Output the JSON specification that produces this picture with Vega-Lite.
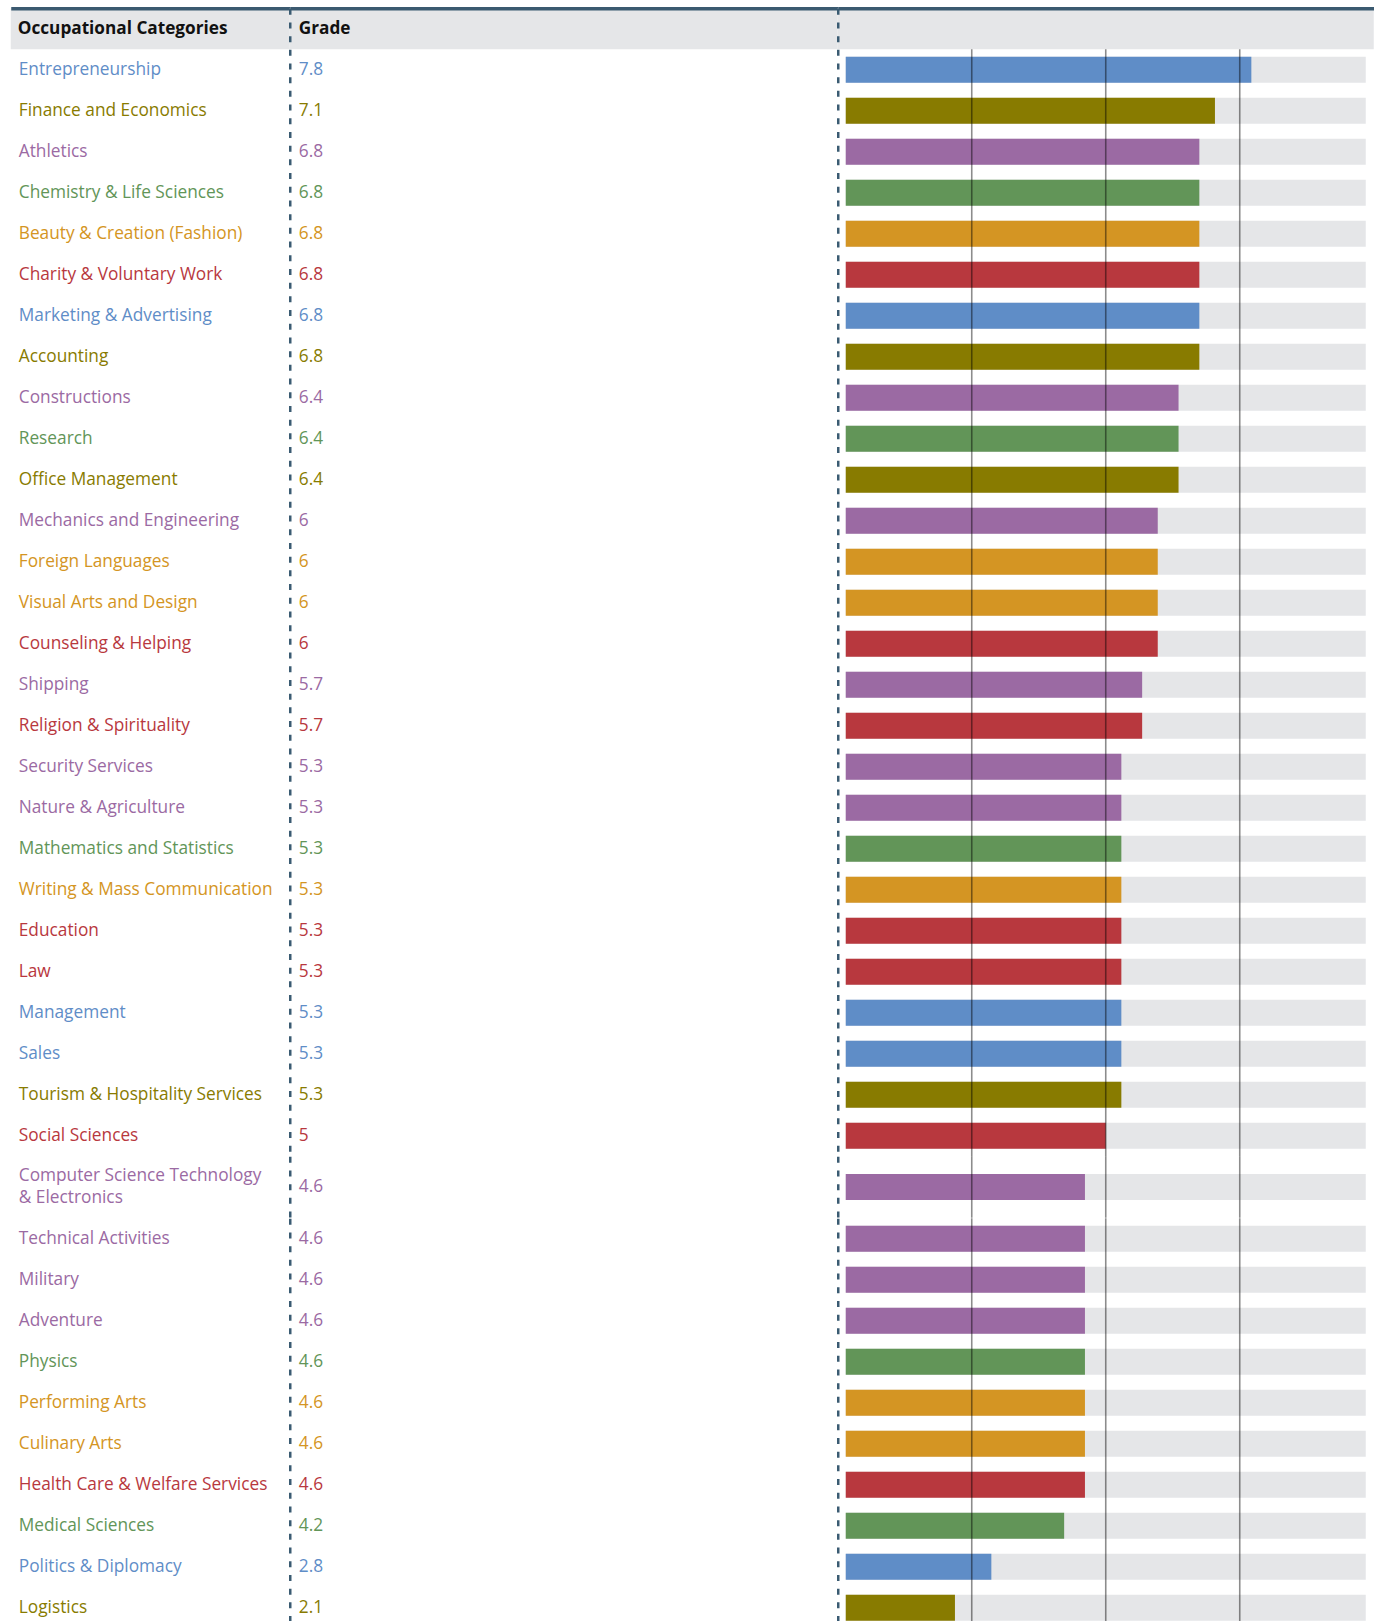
{
  "$schema": "https://vega.github.io/schema/vega-lite/v6.json",
  "padding": {"left": 10.75, "top": 8.25, "right": 0, "bottom": 0},
  "background": "white",
  "config": {"view": {"stroke": null}, "font": "Open Sans"},
  "datasets": {
    "header": [{"cat": "Occupational Categories", "grade": "Grade"}],
    "grid": [{"g": 2.5}, {"g": 5}, {"g": 7.5}],
    "rows": [
      {"sec": 1, "category": "Entrepreneurship", "grade": 7.8, "group": "Enterprising"},
      {"sec": 1, "category": "Finance and Economics", "grade": 7.1, "group": "Conventional"},
      {"sec": 1, "category": "Athletics", "grade": 6.8, "group": "Realistic"},
      {"sec": 1, "category": "Chemistry & Life Sciences", "grade": 6.8, "group": "Investigative"},
      {"sec": 1, "category": "Beauty & Creation (Fashion)", "grade": 6.8, "group": "Artistic"},
      {"sec": 1, "category": "Charity & Voluntary Work", "grade": 6.8, "group": "Social"},
      {"sec": 1, "category": "Marketing & Advertising", "grade": 6.8, "group": "Enterprising"},
      {"sec": 1, "category": "Accounting", "grade": 6.8, "group": "Conventional"},
      {"sec": 1, "category": "Constructions", "grade": 6.4, "group": "Realistic"},
      {"sec": 1, "category": "Research", "grade": 6.4, "group": "Investigative"},
      {"sec": 1, "category": "Office Management", "grade": 6.4, "group": "Conventional"},
      {"sec": 1, "category": "Mechanics and Engineering", "grade": 6, "group": "Realistic"},
      {"sec": 1, "category": "Foreign Languages", "grade": 6, "group": "Artistic"},
      {"sec": 1, "category": "Visual Arts and Design", "grade": 6, "group": "Artistic"},
      {"sec": 1, "category": "Counseling & Helping", "grade": 6, "group": "Social"},
      {"sec": 1, "category": "Shipping", "grade": 5.7, "group": "Realistic"},
      {"sec": 1, "category": "Religion & Spirituality", "grade": 5.7, "group": "Social"},
      {"sec": 1, "category": "Security Services", "grade": 5.3, "group": "Realistic"},
      {"sec": 1, "category": "Nature & Agriculture", "grade": 5.3, "group": "Realistic"},
      {"sec": 1, "category": "Mathematics and Statistics", "grade": 5.3, "group": "Investigative"},
      {"sec": 1, "category": "Writing & Mass Communication", "grade": 5.3, "group": "Artistic"},
      {"sec": 1, "category": "Education", "grade": 5.3, "group": "Social"},
      {"sec": 1, "category": "Law", "grade": 5.3, "group": "Social"},
      {"sec": 1, "category": "Management", "grade": 5.3, "group": "Enterprising"},
      {"sec": 1, "category": "Sales", "grade": 5.3, "group": "Enterprising"},
      {"sec": 1, "category": "Tourism & Hospitality Services", "grade": 5.3, "group": "Conventional"},
      {"sec": 1, "category": "Social Sciences", "grade": 5, "group": "Social"},
      {"sec": 2, "category": "Computer Science Technology\n& Electronics", "grade": 4.6, "group": "Realistic"},
      {"sec": 3, "category": "Technical Activities", "grade": 4.6, "group": "Realistic"},
      {"sec": 3, "category": "Military", "grade": 4.6, "group": "Realistic"},
      {"sec": 3, "category": "Adventure", "grade": 4.6, "group": "Realistic"},
      {"sec": 3, "category": "Physics", "grade": 4.6, "group": "Investigative"},
      {"sec": 3, "category": "Performing Arts", "grade": 4.6, "group": "Artistic"},
      {"sec": 3, "category": "Culinary Arts", "grade": 4.6, "group": "Artistic"},
      {"sec": 3, "category": "Health Care & Welfare Services", "grade": 4.6, "group": "Social"},
      {"sec": 3, "category": "Medical Sciences", "grade": 4.2, "group": "Investigative"},
      {"sec": 3, "category": "Politics & Diplomacy", "grade": 2.8, "group": "Enterprising"},
      {"sec": 3, "category": "Logistics", "grade": 2.1, "group": "Conventional"}
    ]
  },
  "spacing": 0,
  "bounds": "flush",
  "columns": 3,
  "concat": [
    {
      "width": 279, "height": 41,
      "view": {"fill": "#e5e6e8", "stroke": null},
      "data": {"name": "header"},
      "mark": {"type": "text", "align": "left", "baseline": "middle", "dx": 7, "fontSize": 17.2, "fontWeight": "bold", "color": "#111111"},
      "encoding": {
        "x": {"datum": 0, "type": "quantitative", "scale": {"domain": [0, 1]}, "axis": {"orient": "top", "domain": true, "domainColor": "#3b5a70", "domainWidth": 3.5, "labels": false, "ticks": false, "grid": false, "title": null, "zindex": 1}},
        "y": {"field": "cat", "type": "nominal", "scale": {"paddingInner": 0, "paddingOuter": 0}, "axis": null},
        "text": {"field": "cat"}
      }
    },
    {
      "width": 548, "height": 41,
      "view": {"fill": "#e5e6e8", "stroke": null},
      "data": {"name": "header"},
      "mark": {"type": "text", "align": "left", "baseline": "middle", "dx": 9, "fontSize": 17.2, "fontWeight": "bold", "color": "#111111"},
      "encoding": {
        "x": {"datum": 0, "type": "quantitative", "scale": {"domain": [0, 1]}, "axis": {"orient": "top", "domain": true, "domainColor": "#3b5a70", "domainWidth": 3.5, "labels": false, "ticks": false, "grid": false, "title": null, "zindex": 1}},
        "y": {"field": "cat", "type": "nominal", "scale": {"paddingInner": 0, "paddingOuter": 0}, "axis": {"domain": true, "domainDash": [6, 7.7], "domainColor": "#3a5b72", "domainWidth": 2.5, "labels": false, "ticks": false, "grid": false, "title": null, "zindex": 1}},
        "text": {"field": "grade"}
      }
    },
    {
      "width": 536, "height": 41,
      "view": {"fill": "#e5e6e8", "stroke": null},
      "data": {"name": "header"},
      "mark": {"type": "text", "align": "left", "baseline": "middle", "fontSize": 16},
      "encoding": {
        "x": {"datum": 0, "type": "quantitative", "scale": {"domain": [0, 1]}, "axis": {"orient": "top", "domain": true, "domainColor": "#3b5a70", "domainWidth": 3.5, "labels": false, "ticks": false, "grid": false, "title": null, "zindex": 1}},
        "y": {"field": "cat", "type": "nominal", "scale": {"paddingInner": 0, "paddingOuter": 0}, "axis": {"domain": true, "domainDash": [6, 7.7], "domainColor": "#3a5b72", "domainWidth": 2.5, "labels": false, "ticks": false, "grid": false, "title": null, "zindex": 1}},
        "text": {"value": ""}
      }
    },
    {
      "width": 279, "height": 1107,
      "data": {"name": "rows"},
      "transform": [{"filter": "datum.sec == 1"}],
      "mark": {"type": "text", "align": "left", "baseline": "middle", "dx": 8, "fontSize": 17.3, "lineBreak": "\n", "lineHeight": 22.7},
      "encoding": {
        "x": {"datum": 0, "type": "quantitative", "scale": {"domain": [0, 1]}, "axis": null},
        "y": {"field": "category", "type": "nominal", "sort": null, "scale": {"paddingInner": 0, "paddingOuter": 0}, "axis": null},
        "text": {"field": "category"},
        "color": {"field": "group", "type": "nominal", "legend": null, "scale": {"domain": ["Realistic", "Investigative", "Artistic", "Social", "Enterprising", "Conventional"], "range": ["#9b6aa3", "#629558", "#d49523", "#b8383e", "#5f8dc7", "#887b00"]}}
      }
    },
    {
      "width": 548, "height": 1107,
      "data": {"name": "rows"},
      "transform": [{"filter": "datum.sec == 1"}],
      "mark": {"type": "text", "align": "left", "baseline": "middle", "dx": 9, "fontSize": 17.3},
      "encoding": {
        "x": {"datum": 0, "type": "quantitative", "scale": {"domain": [0, 1]}, "axis": null},
        "y": {"field": "category", "type": "nominal", "sort": null, "scale": {"paddingInner": 0, "paddingOuter": 0}, "axis": {"domain": true, "domainDash": [6, 7.7], "domainColor": "#3a5b72", "domainWidth": 2.5, "labels": false, "ticks": false, "grid": false, "title": null, "zindex": 1}},
        "text": {"field": "grade", "type": "quantitative"},
        "color": {"field": "group", "type": "nominal", "legend": null, "scale": {"domain": ["Realistic", "Investigative", "Artistic", "Social", "Enterprising", "Conventional"], "range": ["#9b6aa3", "#629558", "#d49523", "#b8383e", "#5f8dc7", "#887b00"]}}
      }
    },
    {
      "width": 536, "height": 1107,
      "resolve": {"scale": {"x": "independent"}},
      "layer": [
        {
          "data": {"name": "rows"},
          "transform": [{"filter": "datum.sec == 1"}],
          "mark": {"type": "bar", "height": 26, "color": "#e5e6e8"},
          "encoding": {
            "x": {"datum": 0, "type": "quantitative", "scale": {"domain": [0, 10], "nice": false, "zero": false, "padding": 8}, "axis": null},
            "x2": {"datum": 10},
            "y": {"field": "category", "type": "nominal", "sort": null, "scale": {"paddingInner": 0, "paddingOuter": 0}, "axis": {"domain": true, "domainDash": [6, 7.7], "domainColor": "#3a5b72", "domainWidth": 2.5, "labels": false, "ticks": false, "grid": false, "title": null, "zindex": 1}}
          }
        },
        {
          "data": {"name": "rows"},
          "transform": [{"filter": "datum.sec == 1"}],
          "mark": {"type": "bar", "height": 26},
          "encoding": {
            "x": {"field": "grade", "type": "quantitative", "scale": {"domain": [0, 10], "nice": false, "zero": false, "padding": 8}, "axis": null},
            "y": {"field": "category", "type": "nominal", "sort": null},
            "color": {"field": "group", "type": "nominal", "legend": null, "scale": {"domain": ["Realistic", "Investigative", "Artistic", "Social", "Enterprising", "Conventional"], "range": ["#9b6aa3", "#629558", "#d49523", "#b8383e", "#5f8dc7", "#887b00"]}}
          }
        },
        {
          "data": {"name": "grid"},
          "mark": {"type": "rule", "color": "#000000", "opacity": 0.45, "strokeWidth": 1.6},
          "encoding": {
            "x": {"field": "g", "type": "quantitative", "scale": {"domain": [0, 10], "nice": false, "zero": false}, "axis": null}
          }
        }
      ]
    },
    {
      "width": 279, "height": 61.5,
      "data": {"name": "rows"},
      "transform": [{"filter": "datum.sec == 2"}],
      "mark": {"type": "text", "align": "left", "baseline": "middle", "dx": 8, "dy": -11.35, "fontSize": 17.3, "lineBreak": "\n", "lineHeight": 22.7},
      "encoding": {
        "x": {"datum": 0, "type": "quantitative", "scale": {"domain": [0, 1]}, "axis": null},
        "y": {"field": "category", "type": "nominal", "sort": null, "scale": {"paddingInner": 0, "paddingOuter": 0}, "axis": null},
        "text": {"field": "category"},
        "color": {"field": "group", "type": "nominal", "legend": null, "scale": {"domain": ["Realistic", "Investigative", "Artistic", "Social", "Enterprising", "Conventional"], "range": ["#9b6aa3", "#629558", "#d49523", "#b8383e", "#5f8dc7", "#887b00"]}}
      }
    },
    {
      "width": 548, "height": 61.5,
      "data": {"name": "rows"},
      "transform": [{"filter": "datum.sec == 2"}],
      "mark": {"type": "text", "align": "left", "baseline": "middle", "dx": 9, "fontSize": 17.3},
      "encoding": {
        "x": {"datum": 0, "type": "quantitative", "scale": {"domain": [0, 1]}, "axis": null},
        "y": {"field": "category", "type": "nominal", "sort": null, "scale": {"paddingInner": 0, "paddingOuter": 0}, "axis": {"domain": true, "domainDash": [6, 7.7], "domainColor": "#3a5b72", "domainWidth": 2.5, "labels": false, "ticks": false, "grid": false, "title": null, "zindex": 1}},
        "text": {"field": "grade", "type": "quantitative"},
        "color": {"field": "group", "type": "nominal", "legend": null, "scale": {"domain": ["Realistic", "Investigative", "Artistic", "Social", "Enterprising", "Conventional"], "range": ["#9b6aa3", "#629558", "#d49523", "#b8383e", "#5f8dc7", "#887b00"]}}
      }
    },
    {
      "width": 536, "height": 61.5,
      "resolve": {"scale": {"x": "independent"}},
      "layer": [
        {
          "data": {"name": "rows"},
          "transform": [{"filter": "datum.sec == 2"}],
          "mark": {"type": "bar", "height": 26, "color": "#e5e6e8"},
          "encoding": {
            "x": {"datum": 0, "type": "quantitative", "scale": {"domain": [0, 10], "nice": false, "zero": false, "padding": 8}, "axis": null},
            "x2": {"datum": 10},
            "y": {"field": "category", "type": "nominal", "sort": null, "scale": {"paddingInner": 0, "paddingOuter": 0}, "axis": {"domain": true, "domainDash": [6, 7.7], "domainColor": "#3a5b72", "domainWidth": 2.5, "labels": false, "ticks": false, "grid": false, "title": null, "zindex": 1}}
          }
        },
        {
          "data": {"name": "rows"},
          "transform": [{"filter": "datum.sec == 2"}],
          "mark": {"type": "bar", "height": 26},
          "encoding": {
            "x": {"field": "grade", "type": "quantitative", "scale": {"domain": [0, 10], "nice": false, "zero": false, "padding": 8}, "axis": null},
            "y": {"field": "category", "type": "nominal", "sort": null},
            "color": {"field": "group", "type": "nominal", "legend": null, "scale": {"domain": ["Realistic", "Investigative", "Artistic", "Social", "Enterprising", "Conventional"], "range": ["#9b6aa3", "#629558", "#d49523", "#b8383e", "#5f8dc7", "#887b00"]}}
          }
        },
        {
          "data": {"name": "grid"},
          "mark": {"type": "rule", "color": "#000000", "opacity": 0.45, "strokeWidth": 1.6},
          "encoding": {
            "x": {"field": "g", "type": "quantitative", "scale": {"domain": [0, 10], "nice": false, "zero": false}, "axis": null}
          }
        }
      ]
    },
    {
      "width": 279, "height": 410,
      "data": {"name": "rows"},
      "transform": [{"filter": "datum.sec == 3"}],
      "mark": {"type": "text", "align": "left", "baseline": "middle", "dx": 8, "fontSize": 17.3, "lineBreak": "\n", "lineHeight": 22.7},
      "encoding": {
        "x": {"datum": 0, "type": "quantitative", "scale": {"domain": [0, 1]}, "axis": null},
        "y": {"field": "category", "type": "nominal", "sort": null, "scale": {"paddingInner": 0, "paddingOuter": 0}, "axis": null},
        "text": {"field": "category"},
        "color": {"field": "group", "type": "nominal", "legend": null, "scale": {"domain": ["Realistic", "Investigative", "Artistic", "Social", "Enterprising", "Conventional"], "range": ["#9b6aa3", "#629558", "#d49523", "#b8383e", "#5f8dc7", "#887b00"]}}
      }
    },
    {
      "width": 548, "height": 410,
      "data": {"name": "rows"},
      "transform": [{"filter": "datum.sec == 3"}],
      "mark": {"type": "text", "align": "left", "baseline": "middle", "dx": 9, "fontSize": 17.3},
      "encoding": {
        "x": {"datum": 0, "type": "quantitative", "scale": {"domain": [0, 1]}, "axis": null},
        "y": {"field": "category", "type": "nominal", "sort": null, "scale": {"paddingInner": 0, "paddingOuter": 0}, "axis": {"domain": true, "domainDash": [6, 7.7], "domainColor": "#3a5b72", "domainWidth": 2.5, "labels": false, "ticks": false, "grid": false, "title": null, "zindex": 1}},
        "text": {"field": "grade", "type": "quantitative"},
        "color": {"field": "group", "type": "nominal", "legend": null, "scale": {"domain": ["Realistic", "Investigative", "Artistic", "Social", "Enterprising", "Conventional"], "range": ["#9b6aa3", "#629558", "#d49523", "#b8383e", "#5f8dc7", "#887b00"]}}
      }
    },
    {
      "width": 536, "height": 410,
      "resolve": {"scale": {"x": "independent"}},
      "layer": [
        {
          "data": {"name": "rows"},
          "transform": [{"filter": "datum.sec == 3"}],
          "mark": {"type": "bar", "height": 26, "color": "#e5e6e8"},
          "encoding": {
            "x": {"datum": 0, "type": "quantitative", "scale": {"domain": [0, 10], "nice": false, "zero": false, "padding": 8}, "axis": null},
            "x2": {"datum": 10},
            "y": {"field": "category", "type": "nominal", "sort": null, "scale": {"paddingInner": 0, "paddingOuter": 0}, "axis": {"domain": true, "domainDash": [6, 7.7], "domainColor": "#3a5b72", "domainWidth": 2.5, "labels": false, "ticks": false, "grid": false, "title": null, "zindex": 1}}
          }
        },
        {
          "data": {"name": "rows"},
          "transform": [{"filter": "datum.sec == 3"}],
          "mark": {"type": "bar", "height": 26},
          "encoding": {
            "x": {"field": "grade", "type": "quantitative", "scale": {"domain": [0, 10], "nice": false, "zero": false, "padding": 8}, "axis": null},
            "y": {"field": "category", "type": "nominal", "sort": null},
            "color": {"field": "group", "type": "nominal", "legend": null, "scale": {"domain": ["Realistic", "Investigative", "Artistic", "Social", "Enterprising", "Conventional"], "range": ["#9b6aa3", "#629558", "#d49523", "#b8383e", "#5f8dc7", "#887b00"]}}
          }
        },
        {
          "data": {"name": "grid"},
          "mark": {"type": "rule", "color": "#000000", "opacity": 0.45, "strokeWidth": 1.6},
          "encoding": {
            "x": {"field": "g", "type": "quantitative", "scale": {"domain": [0, 10], "nice": false, "zero": false}, "axis": null}
          }
        }
      ]
    }
  ]
}
